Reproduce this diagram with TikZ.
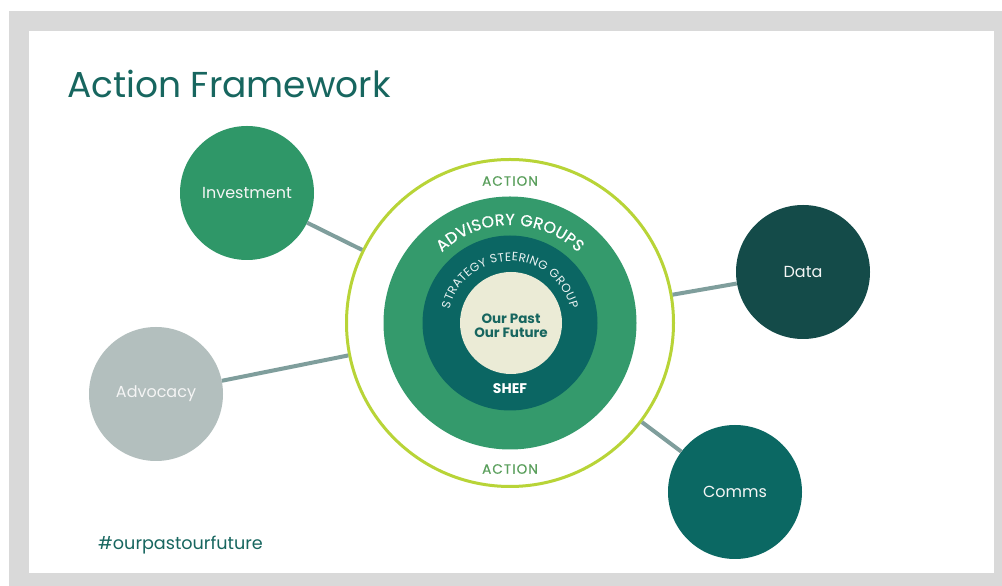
\documentclass[tikz,border=0pt]{standalone}
\usepackage{fontspec}
\setmainfont{Poppins}
\usetikzlibrary{decorations.text}
\definecolor{slidegray}{HTML}{D9D9D9}
\definecolor{titleteal}{HTML}{17665F}
\definecolor{investgreen}{HTML}{2F9768}
\definecolor{advgray}{HTML}{B3BFBE}
\definecolor{datateal}{HTML}{144B49}
\definecolor{commsteal}{HTML}{0B6863}
\definecolor{groupgreen}{HTML}{349A6C}
\definecolor{steerteal}{HTML}{0B6663}
\definecolor{corecream}{HTML}{EBEBD6}
\definecolor{ringlime}{HTML}{B8D437}
\definecolor{linkgray}{HTML}{7F9E9C}
\definecolor{actiongreen}{HTML}{5A9F5C}
\tikzset{
  area/.style={circle, minimum size=134pt, inner sep=0pt, text=white!92!gray,
    font=\fontsize{16}{16}\selectfont},
  link/.style={draw=linkgray, line width=4pt},
  disc/.style={circle, inner sep=0pt},
  actionlabel/.style={text=actiongreen,
    font=\fontsize{13.5}{13.5}\selectfont\addfontfeature{LetterSpace=8,FakeBold=0.6}}
}
\begin{document}
\begin{tikzpicture}[x=1pt, y=1pt]
  \useasboundingbox (0,0) rectangle (1002,586);
  \fill[slidegray] (9,0) rectangle (1002,575);
  \fill[white] (29,13) rectangle (994,555);
  \node[anchor=base west, text=titleteal, inner sep=0pt,
    font=\fontsize{36}{36}\selectfont] (title) at (67,488) {Action Framework};
  \node[anchor=base west, text=titleteal, inner sep=0pt,
    font=\fontsize{17.6}{17.6}\selectfont] (tag) at (98,36) {\#ourpastourfuture};
  % the rings
  \node[disc, draw=ringlime, line width=3pt, minimum size=327pt] (ring) at (510,263) {};
  \node[disc, fill=groupgreen, minimum size=253pt] (groups) at (510,263) {};
  \node[disc, fill=steerteal, minimum size=175pt] (steer) at (510,263) {};
  \node[disc, fill=corecream, minimum size=102pt] (core) at (511,263) {};
  \node[text=titleteal, align=center, font=\bfseries\fontsize{13.5}{14}\selectfont]
    (motto) at (511,260) {Our Past\\Our Future};
  \node[text=white, font=\bfseries\fontsize{14}{14}\selectfont] (shef) at (510,197) {SHEF};
  \node[actionlabel] (acttop) at (510,405) {ACTION};
  \node[actionlabel] (actbot) at (510,117) {ACTION};
  \path[decorate, decoration={text along path, text align=fit to path,
    text={|\fontsize{16}{16}\selectfont\addfontfeature{FakeBold=0.6}\color{white}|ADVISORY GROUPS}}]
    (groups.center) ++(134:98) arc[start angle=134, end angle=46, radius=98];
  \path[decorate, decoration={text along path, text align=fit to path,
    text={|\fontsize{12}{12}\selectfont\color{white!92!steerteal}|STRATEGY STEERING GROUP}}]
    (steer.center) ++(167:62) arc[start angle=167, end angle=13, radius=62];
  % the four areas
  \node[area, fill=investgreen] (invest) at (247,393) {Investment};
  \node[area, fill=advgray] (advocacy) at (156,192) {Advocacy};
  \node[area, fill=datateal] (data) at (803,314) {Data};
  \node[area, fill=commsteal] (comms) at (735,94) {Comms};
  \begin{scope}[link]
    \draw (invest) -- (ring);
    \draw (advocacy) -- (ring);
    \draw (data) -- (ring);
    \draw (comms) -- (ring);
  \end{scope}
\end{tikzpicture}
\end{document}
